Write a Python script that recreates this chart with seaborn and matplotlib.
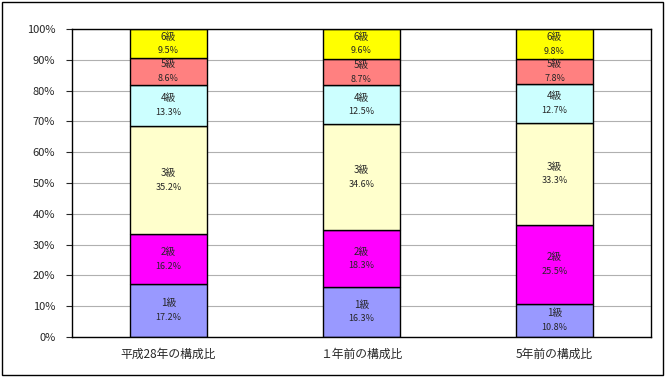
import matplotlib
matplotlib.use("Agg")
import numpy as np
import seaborn as sns
import matplotlib.pyplot as plt
from matplotlib.patches import Rectangle

categories = ["平成28年の構成比", "１年前の構成比", "5年前の構成比"]
grades = ["1級", "2級", "3級", "4級", "5級", "6級"]
grade1 = [17.2, 16.3, 10.8]
grade2 = [16.2, 18.3, 25.5]
grade3 = [35.2, 34.6, 33.3]
grade4 = [13.3, 12.5, 12.7]
grade5 = [8.6, 8.7, 7.8]
grade6 = [9.5, 9.6, 9.8]
series = [grade1, grade2, grade3, grade4, grade5, grade6]
colors = ["#9999FF", "#FF00FF", "#FFFFCC", "#CCFFFF", "#FF8080", "#FFFF00"]

sns.set_theme(style="white")
plt.rcParams["font.family"] = ["Noto Sans CJK JP", "DejaVu Sans"]

W, H = 671, 381
fig = plt.figure(figsize=(W / 100, H / 100), dpi=100)
ax = fig.add_axes([72 / W, 1 - 337 / H, (651 - 72) / W, (337 - 29) / H])

bottom = np.zeros(len(categories))
for name, vals, col in zip(grades, series, colors):
    sns.barplot(x=categories, y=vals, bottom=bottom, color=col, width=0.4,
                edgecolor="black", linewidth=1, ax=ax, saturation=1)
    for i, v in enumerate(vals):
        mid = bottom[i] + v / 2
        ax.text(i, mid + 2.3, name, ha="center", va="center", fontsize=7)
        ax.text(i, mid - 2.3, f"{v:.1f}%", ha="center", va="center", fontsize=6.5)
    bottom = bottom + np.array(vals)

ax.set_xlim(-0.5, 2.5)
ax.set_ylim(0, 100)
ax.set_yticks(range(0, 101, 10))
ax.set_yticklabels([f"{t}%" for t in range(0, 101, 10)], fontsize=8)
ax.tick_params(axis="y", direction="out", length=4, width=0.8, left=True, pad=8)
ax.tick_params(axis="x", length=0, labelsize=8.5, pad=8)
ax.yaxis.grid(True, color="#B0B0B0", linewidth=0.8)
ax.set_axisbelow(True)
for s in ax.spines.values():
    s.set_color("black")
    s.set_linewidth(1)
ax.set_xlabel("")
ax.set_ylabel("")

fig.patches.append(Rectangle((2 / W, 1 - 375 / H), (663 - 2) / W, (375 - 2) / H,
                             transform=fig.transFigure, fill=False,
                             edgecolor="black", linewidth=1))

fig.savefig("out.png", dpi=100)
